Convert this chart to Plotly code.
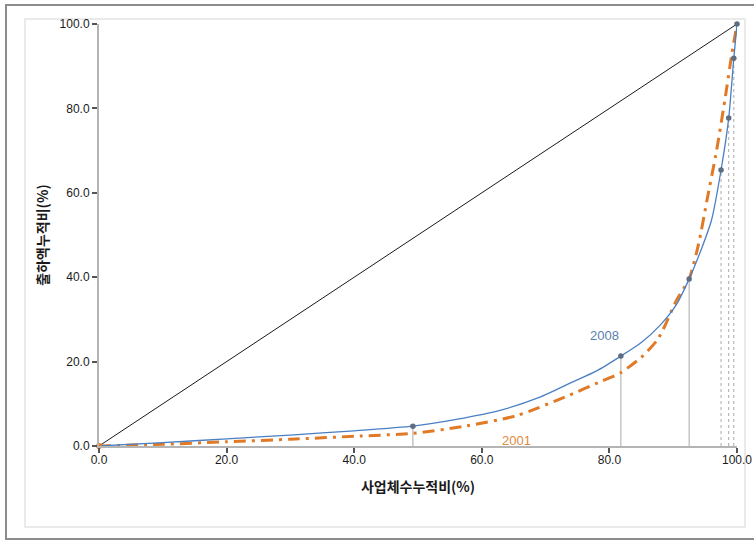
import plotly.graph_objects as go

# Cumulative share of establishments (%) vs cumulative share of shipments (%)
# 2008 curve (blue), sampled along the drawn line
x_2008 = [0, 10, 20, 30, 40, 49.2, 56, 63, 69, 74, 78, 81.8, 85, 88, 90.5,
          92.5, 94.5, 96, 97.5, 98.7, 99.5, 100]
y_2008 = [0, 0.8, 1.7, 2.6, 3.6, 4.7, 6.3, 8.5, 11.5, 15.0, 17.8, 21.3, 24.5,
          28.7, 33.5, 39.6, 47.0, 53.5, 65.4, 77.7, 91.9, 100]

# 2008 class boundaries (markers with drop lines)
pts_x_2008 = [49.2, 81.8, 92.5, 97.5, 98.7, 99.5, 100]
pts_y_2008 = [4.7, 21.3, 39.6, 65.4, 77.7, 91.9, 100]

# 2001 curve (orange)
x_2001 = [0, 10, 20, 30, 40, 49.2, 57, 65.5, 73.8, 78.5, 81.7, 85, 87.5,
          88.7, 90.5, 92.5, 94, 95.3, 96.8, 98.1, 99.2, 100]
y_2001 = [0, 0.4, 1.0, 1.6, 2.3, 3.0, 4.6, 7.2, 12.1, 15.2, 17.3, 21.0, 25.1,
          28.5, 34.5, 39.6, 48.0, 58.3, 70.0, 82.0, 93.0, 100]

# line of perfect equality
x_eq = [0, 100]
y_eq = [0, 100]

x_ticks = [0, 20, 40, 60, 80, 100]
x_ticktext = ["0.0", "20.0", "40.0", "60.0", "80.0", "100.0"]
y_ticks = [0, 20, 40, 60, 80, 100]
y_ticktext = ["0.0", "20.0", "40.0", "60.0", "80.0", "100.0"]

x_title = "사업체수누적비(%)"
y_title = "출하액누적비(%)"

BLUE = "#4a7fc4"
ORANGE = "#e07a26"
GRID = "#a9a9a9"

fig = go.Figure()

# drop lines from the boundary markers to the x axis
n_solid = 3
solid_x, solid_y, dot_x, dot_y = [], [], [], []
for i, (px, py) in enumerate(zip(pts_x_2008, pts_y_2008)):
    if px >= 100:
        continue
    if i < n_solid:
        solid_x += [px, px, None]
        solid_y += [0, py, None]
    else:
        dot_x += [px, px, None]
        dot_y += [0, py, None]

fig.add_trace(go.Scatter(x=solid_x, y=solid_y, mode="lines",
                         line=dict(color=GRID, width=1), hoverinfo="skip",
                         showlegend=False))
fig.add_trace(go.Scatter(x=dot_x, y=dot_y, mode="lines",
                         line=dict(color=GRID, width=1, dash="dot"),
                         hoverinfo="skip", showlegend=False))

# equality diagonal
fig.add_trace(go.Scatter(x=x_eq, y=y_eq, mode="lines",
                         line=dict(color="#1a1a1a", width=1),
                         showlegend=False, cliponaxis=False))

# 2001 curve
fig.add_trace(go.Scatter(x=x_2001, y=y_2001, mode="lines", name="2001",
                         line=dict(color=ORANGE, width=3, shape="spline",
                                   smoothing=0.6, dash="12px,6px,3px,6px"),
                         showlegend=False, cliponaxis=False))

# 2008 curve
fig.add_trace(go.Scatter(x=x_2008, y=y_2008, mode="lines", name="2008",
                         line=dict(color=BLUE, width=1.3, shape="spline",
                                   smoothing=0.6),
                         showlegend=False, cliponaxis=False))

# 2008 boundary markers
fig.add_trace(go.Scatter(x=pts_x_2008, y=pts_y_2008, mode="markers",
                         marker=dict(color="#5d6d82", size=5.5),
                         showlegend=False, cliponaxis=False))

# origin marker
fig.add_trace(go.Scatter(x=[x_2001[0]], y=[y_2001[0]], mode="markers",
                         marker=dict(color=ORANGE, size=6),
                         showlegend=False, cliponaxis=False))

# curve labels
fig.add_annotation(x=79.3, y=26.3, text="2008", showarrow=False,
                   font=dict(family="Liberation Sans, Arial", size=13, color="#5a80ad"))
fig.add_annotation(x=65.5, y=1.4, text="2001", showarrow=False,
                   font=dict(family="Liberation Sans, Arial", size=13, color="#e08a42"))

# outer frame and inner rounded panel
fig.add_shape(type="rect", xref="paper", yref="paper",
              x0=-93 / 638, x1=(775 - 99) / 638,
              y0=-(539 - 446) / 422, y1=(446 - 5) / 422,
              line=dict(color="#8c8c8c", width=2), layer="below")
fig.add_shape(type="path", xref="paper", yref="paper",
              path=("M {a},{b} L {c},{b} L {c},{d} L {a},{d} Z").format(
                  a=(25 - 99) / 638, c=(745 - 99) / 638,
                  b=-(527 - 446) / 422, d=(446 - 19) / 422),
              line=dict(color="#e4e4e4", width=1.5), layer="below")

tick_font = dict(family="Liberation Sans, Arial", size=12, color="#1a1a1a")
title_font = dict(family="Noto Sans CJK KR", size=14, color="#1a1a1a")

fig.update_xaxes(range=[0, 100], tickvals=x_ticks, ticktext=x_ticktext,
                 showgrid=False, zeroline=False, showline=True,
                 linecolor="#b4b4b4", linewidth=2, ticks="outside",
                 ticklen=5, tickwidth=2, tickcolor="#555555",
                 ticklabelstandoff=-3, tickfont=tick_font, automargin=False,
                 title=dict(text="<b>" + x_title + "</b>", standoff=16,
                            font=title_font))
fig.update_yaxes(range=[0, 100], tickvals=y_ticks, ticktext=y_ticktext,
                 showgrid=False, zeroline=False, showline=True,
                 linecolor="#b4b4b4", linewidth=2, ticks="outside",
                 ticklen=5, tickwidth=2, tickcolor="#555555",
                 tickfont=tick_font, automargin=False,
                 title=dict(text="<b>" + y_title + "</b>", standoff=8,
                            font=title_font))

fig.update_layout(width=754, height=544,
                  margin=dict(l=99, r=17, t=24, b=98),
                  paper_bgcolor="white", plot_bgcolor="white",
                  showlegend=False)

fig.write_html("out.html")
